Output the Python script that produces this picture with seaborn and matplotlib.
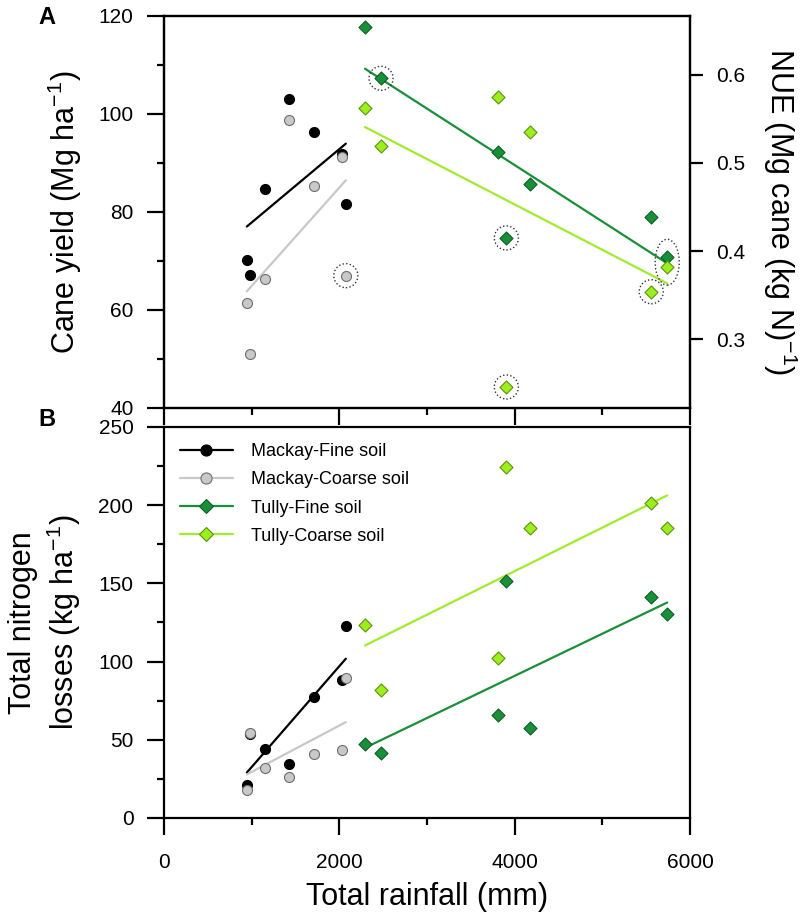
import numpy as np
import matplotlib
matplotlib.use("Agg")
import matplotlib.pyplot as plt
from matplotlib.patches import Ellipse
from matplotlib.lines import Line2D
from matplotlib.ticker import MultipleLocator
import seaborn as sns

# Regenfall (mm) je Saison, pro Standort
mackay_rain = [945, 985, 1150, 1423, 1716, 2028, 2074]
tully_rain = [2293, 2476, 3814, 3905, 4171, 5558, 5740]

# Panel A: Ertrag Mackay (linke Achse), NUE Tully (rechte Achse)
mackay_fine_yield = [70.2, 67.1, 84.6, 103.1, 96.3, 91.8, 81.6]
mackay_coarse_yield = [61.5, 51.0, 66.3, 98.8, 85.2, 91.2, 67.0]
tully_fine_nue = [0.654, 0.596, 0.513, 0.415, 0.476, 0.439, 0.393]
tully_coarse_nue = [0.562, 0.519, 0.575, 0.246, 0.535, 0.354, 0.382]

# Panel B: N-Verluste (kg/ha)
mackay_fine_loss = [21.1, 54.0, 44.3, 34.7, 77.3, 88.0, 122.7]
mackay_coarse_loss = [17.9, 54.5, 31.7, 26.2, 40.9, 43.7, 89.7]
tully_fine_loss = [47.1, 41.7, 65.6, 151.2, 57.7, 141.4, 130.2]
tully_coarse_loss = [123.1, 81.8, 102.4, 224.3, 185.1, 201.3, 185.5]

# markierte Saisons in Panel A (Index)
circled_mackay_coarse = [6]
circled_tully_fine = [1, 3]
circled_tully_coarse = [3, 5]
ringed_pair = 6  # letzte Tully-Saison, beide Böden in einer Ellipse

labels = ["Mackay-Fine soil", "Mackay-Coarse soil", "Tully-Fine soil", "Tully-Coarse soil"]

# Farben: (Füllung, Rand, Linie, Marker)
styles = {
    "mf": ("#000000", "#000000", "#000000", "o"),
    "mc": ("#c8c8c8", "#6e6e6e", "#c8c8c8", "o"),
    "tf": ("#1a8f3a", "#0f5e23", "#1a8f3a", "D"),
    "tc": ("#9bef1c", "#5f8f14", "#a2ea2e", "D"),
}

sns.set_style("ticks")
plt.rcParams["font.family"] = ["Liberation Sans", "DejaVu Sans"]
plt.rcParams["mathtext.fontset"] = "custom"
plt.rcParams["mathtext.rm"] = "Liberation Sans"
plt.rcParams["mathtext.it"] = "Liberation Sans:italic"
plt.rcParams["mathtext.bf"] = "Liberation Sans:bold"
for k in ("text.color", "axes.labelcolor", "xtick.color", "ytick.color", "axes.edgecolor"):
    plt.rcParams[k] = "black"


def draw(ax, x, y, key):
    face, edge, line, marker = styles[key]
    sz = 52 if marker == "o" else 44
    sns.regplot(x=np.array(x), y=np.array(y), ax=ax, ci=None, truncate=True, marker=marker,
                scatter_kws=dict(s=sz, color=face, edgecolor=edge, linewidths=0.8, alpha=1, zorder=3),
                line_kws=dict(color=line, lw=1.6, zorder=2))


def ring(ax, x, y, idx):
    ax.scatter(np.array(x)[idx], np.array(y)[idx], s=300, facecolors="none", edgecolors="#333333",
               linewidths=1.0, linestyles=(0, (1, 1.6)), zorder=4)


fig = plt.figure(figsize=(8, 9.23), dpi=100)
axA = fig.add_axes([0.205, 0.558, 0.6575, 0.4247])
axB = fig.add_axes([0.205, 0.1138, 0.6575, 0.4236])
ax2 = axA.twinx()

# Panel A
draw(axA, mackay_rain, mackay_fine_yield, "mf")
draw(axA, mackay_rain, mackay_coarse_yield, "mc")
draw(ax2, tully_rain, tully_fine_nue, "tf")
draw(ax2, tully_rain, tully_coarse_nue, "tc")
ring(axA, mackay_rain, mackay_coarse_yield, circled_mackay_coarse)
ring(ax2, tully_rain, tully_fine_nue, circled_tully_fine)
ring(ax2, tully_rain, tully_coarse_nue, circled_tully_coarse)
pair_y = (tully_fine_nue[ringed_pair] + tully_coarse_nue[ringed_pair]) / 2
ax2.add_patch(Ellipse((tully_rain[ringed_pair], pair_y), width=275, height=0.052, fill=False,
                      ec="#333333", lw=1.0, ls=(0, (1, 1.6)), zorder=4))

# Panel B
draw(axB, mackay_rain, mackay_fine_loss, "mf")
draw(axB, mackay_rain, mackay_coarse_loss, "mc")
draw(axB, tully_rain, tully_fine_loss, "tf")
draw(axB, tully_rain, tully_coarse_loss, "tc")

for ax in (axA, axB):
    ax.set_xlim(0, 6000)
    ax.xaxis.set_major_locator(MultipleLocator(2000))
    ax.xaxis.set_minor_locator(MultipleLocator(1000))
    for s in ax.spines.values():
        s.set_linewidth(1.6)
        s.set_color("black")
    ax.tick_params(which="major", length=12, width=1.6, labelsize=15, pad=10, right=False, top=False)
    ax.tick_params(which="minor", length=5, width=1.6, right=False, top=False)
    ax.tick_params(axis="x", which="major", pad=13)
    ax.set_xlabel("")
    ax.set_ylabel("")

ax2.set_xlim(0, 6000)
axA.set_ylim(40, 120)
axA.yaxis.set_major_locator(MultipleLocator(20))
axA.yaxis.set_minor_locator(MultipleLocator(10))
axA.tick_params(axis="x", labelbottom=False)
ax2.set_ylim(40 / 180, 120 / 180)
ax2.yaxis.set_major_locator(MultipleLocator(0.1))
ax2.tick_params(axis="y", length=9, width=1.6, labelsize=15, pad=10)
for s in ax2.spines.values():
    s.set_linewidth(1.6)
    s.set_color("black")

axB.set_ylim(0, 250)
axB.yaxis.set_major_locator(MultipleLocator(50))
axB.yaxis.set_minor_locator(MultipleLocator(25))

axA.set_ylabel("Cane yield (Mg ha$^{-1}$)", fontsize=22, va="center")
axA.yaxis.set_label_coords(-0.188, 0.5)
ax2.set_ylabel("NUE (Mg cane (kg N)$^{-1}$)", fontsize=22, rotation=270, va="center")
ax2.yaxis.set_label_coords(1.171, 0.5)
axB.set_ylabel("Total nitrogen\nlosses (kg ha$^{-1}$)", fontsize=22, va="center", linespacing=1.25)
axB.yaxis.set_label_coords(-0.225, 0.5)
axB.set_xlabel("Total rainfall (mm)", fontsize=22, va="center")
axB.xaxis.set_label_coords(0.5, -0.202)

handles = []
for key in ("mf", "mc", "tf", "tc"):
    face, edge, line, marker = styles[key]
    handles.append(Line2D([0], [0], color=line, lw=1.6, marker=marker, markersize=8 if marker == "o" else 7,
                          markerfacecolor=face, markeredgecolor=edge, markeredgewidth=0.8))
axB.legend(handles, labels, loc="upper left", frameon=False, fontsize=13, handlelength=2.9,
           handletextpad=1.0, borderaxespad=0.5, labelspacing=0.62)

fig.text(47 / 800, 1 - 18 / 923, "A", fontsize=17, fontweight="bold", ha="center", va="center")
fig.text(47 / 800, 1 - 420 / 923, "B", fontsize=17, fontweight="bold", ha="center", va="center")

fig.savefig("out.png", dpi=100)
